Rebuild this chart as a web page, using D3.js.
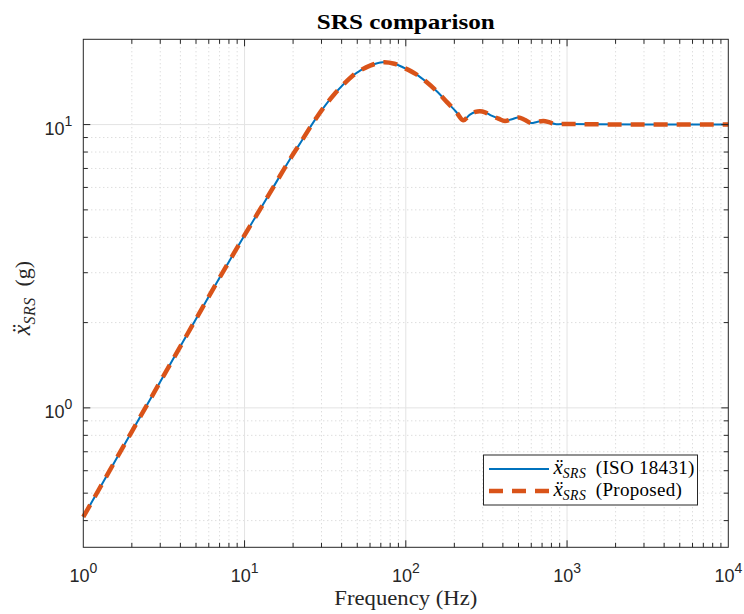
<!DOCTYPE html>
<html>
<head>
<meta charset="utf-8">
<script src="https://cdn.jsdelivr.net/npm/d3@7"></script>
<style>
body { margin: 0; background: #fff; }
</style>
</head>
<body>
<div id="chart"></div>
<script>
// frequencies (Hz) and SRS values (g)
var freqs = [1, 2, 3, 5, 7, 10, 14, 19, 22, 28, 35.6, 47, 52, 60, 72, 85, 96.5, 115, 135, 158, 180, 205, 227,
	250, 270, 288, 310, 340, 375, 412, 455, 499, 545, 597, 650, 712, 780, 842, 1000, 1500, 3000, 10000];
var isoSrs = [0.412, 0.825, 1.237, 2.06, 2.88, 4.07, 5.6, 7.5, 8.55, 10.6, 12.7, 14.9, 15.5, 16.15, 16.6, 16.4, 15.9, 15.1, 14.1, 13.0, 12.0, 11.1, 10.36,
	10.85, 11.08, 11.14, 11.05, 10.75, 10.5, 10.3, 10.45, 10.59, 10.4, 10.13, 10.22, 10.3, 10.18, 10.05, 10.05, 10.02, 10.0, 10.0];
var proposedSrs = [0.412, 0.825, 1.237, 2.06, 2.88, 4.07, 5.6, 7.5, 8.55, 10.6, 12.7, 14.9, 15.5, 16.15, 16.6, 16.4, 15.9, 15.1, 14.1, 13.0, 12.0, 11.1, 10.36,
	10.85, 11.08, 11.14, 11.05, 10.75, 10.5, 10.3, 10.45, 10.59, 10.4, 10.13, 10.22, 10.3, 10.18, 10.05, 10.05, 10.02, 10.0, 10.0];

var xMajor = [1, 10, 100, 1000, 10000];
var xExp = ["0", "1", "2", "3", "4"];
var yMajor = [1, 10];
var yExp = ["0", "1"];
var xDomain = [1, 10000];
var yDomain = [0.322, 20];

var W = 744, H = 614;
var margin = {top: 39.3, right: 15.7, bottom: 66.7, left: 83.3};
var w = W - margin.left - margin.right,
	h = H - margin.top - margin.bottom;

var svg = d3.select("#chart").append("svg")
	.attr("width", W).attr("height", H)
	.style("font-family", "'Liberation Sans', Arial, sans-serif");

var g = svg.append("g")
	.attr("transform", "translate(" + margin.left + "," + margin.top + ")");

var x = d3.scaleLog().domain(xDomain).range([0, w]);
var y = d3.scaleLog().domain(yDomain).range([h, 0]);

// minor tick values
var xMinor = [];
xMajor.slice(0, -1).forEach(function(d){ for (var k = 2; k < 10; k++) xMinor.push(d * k); });
var yMinor = [];
[0.1, 1, 10].forEach(function(d){ for (var k = 2; k < 10; k++) { var v = d * k; if (v > yDomain[0] && v < yDomain[1]) yMinor.push(v); } });

// minor grid (dotted)
g.selectAll(".xmg").data(xMinor).enter().append("line")
	.attr("x1", function(d){ return x(d); }).attr("x2", function(d){ return x(d); })
	.attr("y1", 0).attr("y2", h)
	.attr("stroke", "#cfcfcf").attr("stroke-width", 1).attr("stroke-dasharray", "1,3");
g.selectAll(".ymg").data(yMinor).enter().append("line")
	.attr("x1", 0).attr("x2", w)
	.attr("y1", function(d){ return y(d); }).attr("y2", function(d){ return y(d); })
	.attr("stroke", "#cfcfcf").attr("stroke-width", 1).attr("stroke-dasharray", "1,3");

// major grid
g.selectAll(".xg").data(xMajor.slice(1, -1)).enter().append("line")
	.attr("x1", function(d){ return x(d); }).attr("x2", function(d){ return x(d); })
	.attr("y1", 0).attr("y2", h)
	.attr("stroke", "#e3e3e3").attr("stroke-width", 1);
g.selectAll(".yg").data(yMajor).enter().append("line")
	.attr("x1", 0).attr("x2", w)
	.attr("y1", function(d){ return y(d); }).attr("y2", function(d){ return y(d); })
	.attr("stroke", "#e3e3e3").attr("stroke-width", 1);

// lines
var pts1 = freqs.map(function(f, i){ return [f, isoSrs[i]]; });
var pts2 = freqs.map(function(f, i){ return [f, proposedSrs[i]]; });
var line = d3.line()
	.x(function(d){ return x(d[0]); })
	.y(function(d){ return y(d[1]); })
	.curve(d3.curveCatmullRom.alpha(0.5));

g.append("path").datum(pts1)
	.attr("d", line).attr("fill", "none")
	.attr("stroke", "#0072BD").attr("stroke-width", 2);
g.append("path").datum(pts2)
	.attr("d", line).attr("fill", "none")
	.attr("stroke", "#D95319").attr("stroke-width", 4.5)
	.attr("stroke-dasharray", "14,9");

// box
g.append("rect").attr("x", 0).attr("y", 0).attr("width", w).attr("height", h)
	.attr("fill", "none").attr("stroke", "#262626").attr("stroke-width", 1);

// ticks (inside, on all four sides)
var majLen = 7, minLen = 4.5;
function xTicksAt(vals, len){
	vals.forEach(function(d){
		g.append("line").attr("x1", x(d)).attr("x2", x(d)).attr("y1", h).attr("y2", h - len).attr("stroke", "#262626");
		g.append("line").attr("x1", x(d)).attr("x2", x(d)).attr("y1", 0).attr("y2", len).attr("stroke", "#262626");
	});
}
function yTicksAt(vals, len){
	vals.forEach(function(d){
		g.append("line").attr("y1", y(d)).attr("y2", y(d)).attr("x1", 0).attr("x2", len).attr("stroke", "#262626");
		g.append("line").attr("y1", y(d)).attr("y2", y(d)).attr("x1", w).attr("x2", w - len).attr("stroke", "#262626");
	});
}
xTicksAt(xMajor.slice(1, -1), majLen);
xTicksAt(xMinor, minLen);
yTicksAt(yMajor, majLen);
yTicksAt(yMinor, minLen);

// tick labels
xMajor.forEach(function(d, i){
	var t = g.append("text")
		.attr("x", x(d)).attr("y", h + 34.5)
		.attr("text-anchor", "middle")
		.attr("fill", "#262626")
		.style("font-size", "18px");
	t.append("tspan").text("10");
	t.append("tspan").attr("dy", -9).style("font-size", "14px").text(xExp[i]);
});
yMajor.forEach(function(d, i){
	var t = g.append("text")
		.attr("x", -11).attr("y", y(d) + 10)
		.attr("text-anchor", "end")
		.attr("fill", "#262626")
		.style("font-size", "18px");
	t.append("tspan").text("10");
	t.append("tspan").attr("dy", -9).style("font-size", "14px").text(yExp[i]);
});

// title and axis labels
svg.append("text")
	.attr("x", margin.left + w / 2).attr("y", 29)
	.attr("text-anchor", "middle")
	.attr("textLength", 178).attr("lengthAdjust", "spacingAndGlyphs")
	.style("font-family", "'Liberation Serif', serif")
	.style("font-weight", "bold").style("font-size", "21px")
	.attr("fill", "#000")
	.text("SRS comparison");

svg.append("text")
	.attr("x", margin.left + w / 2).attr("y", 605)
	.attr("text-anchor", "middle")
	.attr("textLength", 143).attr("lengthAdjust", "spacingAndGlyphs")
	.style("font-family", "'Liberation Serif', serif")
	.style("font-size", "20px")
	.attr("fill", "#262626")
	.text("Frequency (Hz)");

function srsLabel(sel, size){
	sel.style("font-family", "'Liberation Serif', serif").style("font-size", size + "px");
	sel.append("tspan").style("font-style", "italic").style("font-size", (size * 1.1) + "px").text("\u1E8D");
	sel.append("tspan").style("font-style", "italic").style("font-size", (size * 0.72) + "px")
		.attr("dy", size * 0.22).attr("letter-spacing", "0.5px").text("SRS");
	sel.append("tspan").attr("dy", -size * 0.22).text("\u2002");
	return sel;
}

var yl = svg.append("text")
	.attr("transform", "translate(30," + 298 + ") rotate(-90)")
	.attr("text-anchor", "middle")
	.attr("fill", "#262626");
srsLabel(yl, 22);
yl.append("tspan").text("(g)");

// legend
var lg = svg.append("g").attr("transform", "translate(483.5,455)");
lg.append("rect").attr("width", 214).attr("height", 50)
	.attr("fill", "#fff").attr("stroke", "#262626").attr("stroke-width", 1);
var legendItems = [
	{label: "(ISO 18431)", color: "#0072BD", width: 2, dash: null},
	{label: "(Proposed)", color: "#D95319", width: 4.5, dash: "14,9"}
];
legendItems.forEach(function(it, i){
	var yy = 14 + i * 22;
	lg.append("line").attr("x1", 5.5).attr("x2", 65.5).attr("y1", yy).attr("y2", yy)
		.attr("stroke", it.color).attr("stroke-width", it.width)
		.attr("stroke-dasharray", it.dash);
	var t = lg.append("text").attr("x", 70).attr("y", yy + 5).attr("fill", "#000");
	srsLabel(t, 19);
	t.append("tspan").attr("letter-spacing", "0.3px").text(it.label);
});
</script>
</body>
</html>
